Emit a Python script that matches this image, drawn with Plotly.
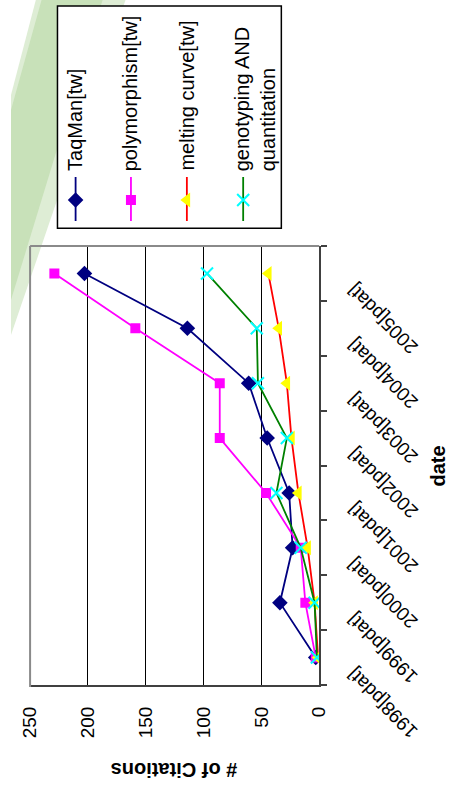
import plotly.graph_objects as go

# Citation counts per publication year (PubMed queries)
dates = ["1998[pdat]", "1999[pdat]", "2000[pdat]", "2001[pdat]",
         "2002[pdat]", "2003[pdat]", "2004[pdat]", "2005[pdat]"]
taqman = [3, 34, 23, 26, 45, 61, 114, 203]
polymorphism = [3, 12, 16, 46, 86, 86, 159, 229]
melting_curve = [1, 4, 10, 18, 24, 28, 35, 44]
genotyping = [2, 4, 16, 37, 28, 53, 54, 97]
x_ticks = [0, 50, 100, 150, 200, 250]

series = [
    ("TaqMan[tw]", taqman, "#000080", "diamond", "#000080", 12),
    ("polymorphism[tw]", polymorphism, "#FF00FF", "square", "#FF00FF", 10),
    ("melting curve[tw]", melting_curve, "#FF0000", "triangle-left", "#FFFF00", 13),
    ("genotyping AND<br>quantitation", genotyping, "#008000", "x-thin", "#00FFFF", 12),
]

W, H = 459, 797
FONT = "Liberation Sans, Arial, sans-serif"


def px(x):
    return x / W


def py(y):
    return 1 - y / H


def make_marker(sym, size, color):
    return dict(symbol=sym, size=size, color=color,
                line=dict(color=color, width=2 if sym == "x-thin" else 0))


fig = go.Figure()

for name, vals, lc, sym, mc, ms in series:
    fig.add_trace(go.Scatter(
        x=vals, y=dates, mode="lines+markers", name=name,
        line=dict(color=lc, width=1.8), marker=make_marker(sym, ms, mc),
        xaxis="x", yaxis="y", showlegend=False))

# Hand-built vertical legend keys on a pixel-scaled helper axis
key_x = [67.7, 125.7, 184.3, 243.3]
for (name, vals, lc, sym, mc, ms), kx in zip(series, key_x):
    fig.add_trace(go.Scatter(
        x=[kx, kx], y=[177, 221], mode="lines", line=dict(color=lc, width=1.8),
        xaxis="x2", yaxis="y2", showlegend=False, hoverinfo="skip"))
    fig.add_trace(go.Scatter(
        x=[kx], y=[200], mode="markers", marker=make_marker(sym, ms, mc),
        xaxis="x2", yaxis="y2", showlegend=False, hoverinfo="skip"))

annotations = []
text_x = [67, 125, 184, 255.5]
for (name, *_), tx in zip(series, text_x):
    annotations.append(dict(
        text=name, x=tx, y=173, xref="x2", yref="y2",
        xanchor="center", yanchor="bottom", textangle=-90, align="left",
        showarrow=False, font=dict(family=FONT, size=20, color="black")))

# Slanted, upside-down year labels beside the category axis
for d in dates:
    annotations.append(dict(
        text=d, x=px(345), y=d, xref="paper", yref="y",
        xanchor="left", yanchor="top", yshift=-3, textangle=-135,
        showarrow=False, font=dict(family=FONT, size=19, color="black")))

annotations.append(dict(
    text="<b>date</b>", x=px(447), y=py(466), xref="paper", yref="paper",
    xanchor="center", yanchor="middle",
    textangle=-90, showarrow=False, font=dict(family=FONT, size=20, color="black")))
annotations.append(dict(
    text="<b># of Citations</b>", x=px(171), y=py(770), xref="paper", yref="paper",
    xanchor="center", yanchor="middle",
    textangle=180, showarrow=False, font=dict(family=FONT, size=20, color="black")))

shapes = [
    # soft green backdrop band
    dict(type="path", xref="paper", yref="paper", layer="below",
         path=f"M {px(26)} {py(0)} L {px(120)} {py(0)} L {px(0)} {py(335)} L {px(0)} {py(95)} Z",
         fillcolor="rgb(222,237,213)", line=dict(width=0)),
    dict(type="path", xref="paper", yref="paper", layer="below",
         path=f"M {px(32)} {py(0)} L {px(96)} {py(0)} L {px(0)} {py(300)} L {px(0)} {py(110)} Z",
         fillcolor="rgb(200,225,185)", line=dict(width=0)),
    # legend frame
    dict(type="rect", xref="paper", yref="paper", layer="below",
         x0=px(48.7), x1=px(283.3), y0=py(228.3), y1=py(6),
         fillcolor="white", line=dict(color="black", width=1.5)),
    # plot-area border (top and left)
    dict(type="line", xref="paper", yref="paper", layer="above",
         x0=px(20), x1=px(323), y0=py(246), y1=py(246),
         line=dict(color="#8a8a8a", width=2)),
    dict(type="line", xref="paper", yref="paper", layer="above",
         x0=px(20), x1=px(20), y0=py(246), y1=py(687),
         line=dict(color="#8a8a8a", width=2)),
]

fig.update_layout(
    width=W, height=H,
    margin=dict(l=0, r=0, t=0, b=0),
    paper_bgcolor="white", plot_bgcolor="white",
    font=dict(family=FONT, color="black"),
    xaxis=dict(
        domain=[px(20), px(323)], range=[250, 0], tickvals=x_ticks,
        tickangle=-90, tickfont=dict(size=19, family=FONT),
        showgrid=True, gridcolor="black", gridwidth=1, zeroline=False,
        showline=True, linecolor="#404040", linewidth=2,
        ticks="", ticklabelstandoff=12, anchor="y", fixedrange=True),
    yaxis=dict(
        domain=[py(685), py(246)], type="category", categoryorder="array",
        categoryarray=dates, range=[-0.5, 7.5], side="right",
        showline=True, linecolor="#404040", linewidth=2,
        ticks="outside", ticklen=6, tickwidth=1.5, tickcolor="#404040",
        tickson="boundaries", showticklabels=False, showgrid=False,
        zeroline=False, anchor="x", fixedrange=True),
    xaxis2=dict(domain=[px(50), px(282)], range=[50, 282], visible=False,
                anchor="y2", fixedrange=True),
    yaxis2=dict(domain=[py(227), py(7.5)], range=[227, 7.5], visible=False,
                anchor="x2", fixedrange=True),
    annotations=annotations,
    shapes=shapes,
)

fig.write_html("out.html")
